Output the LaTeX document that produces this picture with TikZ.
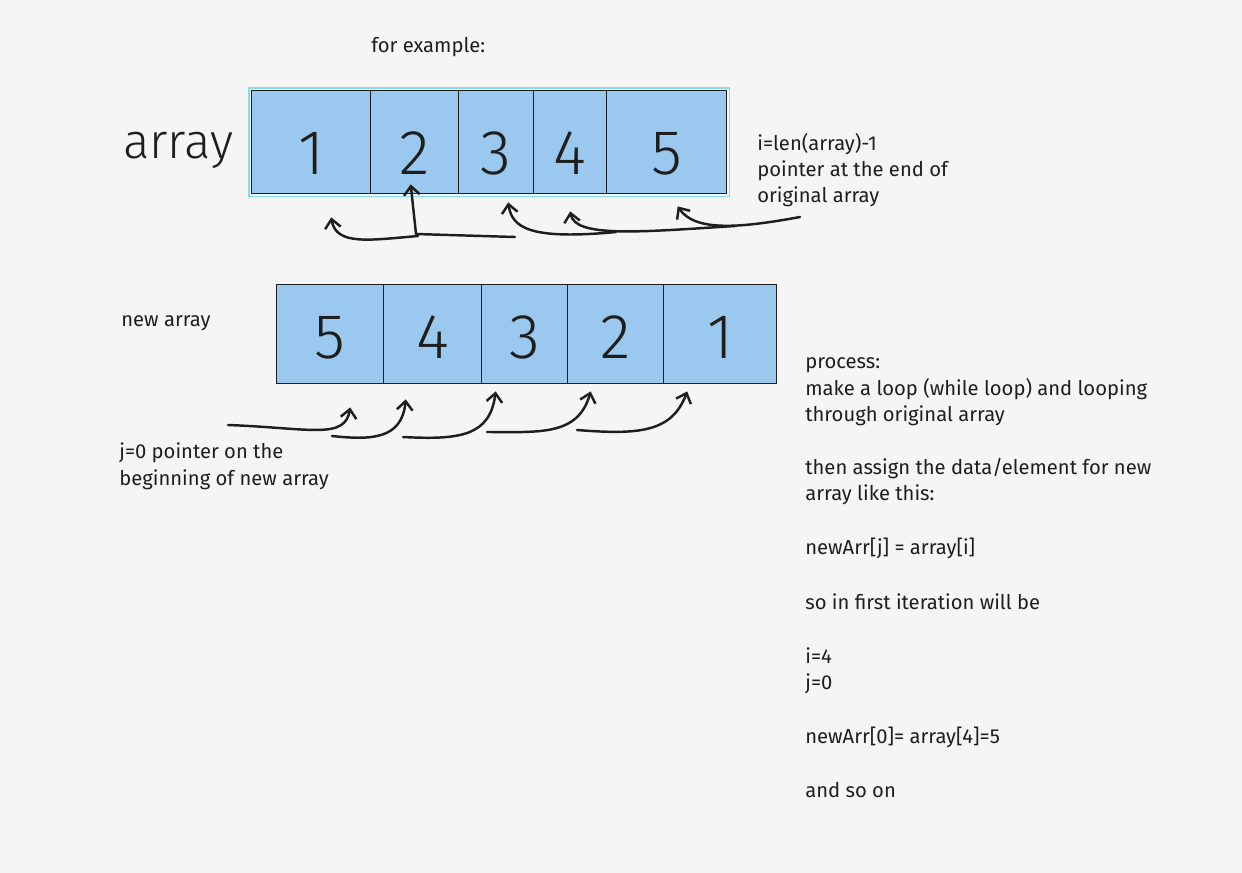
\documentclass[tikz,border=0pt]{standalone}
\usepackage{fontspec}
\setmainfont{Fira Sans}
\newfontfamily\digitfont{Fira Sans Light}
\usetikzlibrary{arrows.meta, positioning}
\definecolor{paper}{HTML}{F5F5F5}
\definecolor{boxblue}{HTML}{9AC8EE}
\definecolor{ink}{HTML}{1E1E1E}
\definecolor{glow}{HTML}{8ADCEB}
\tikzset{
cell/.style={draw=ink, line width=0.8pt, fill=boxblue, anchor=north west, inner sep=0pt,
    text depth=0pt, text=ink, font=\digitfont\fontsize{36}{36}\selectfont},
note/.style={anchor=base west, inner sep=0pt, text=ink, font=\fontsize{11.5}{13}\selectfont},
hand/.style={ink, line width=1.4pt, line cap=round, line join=round,
    -{Straight Barb[length=5pt, width=9pt]}},
}

\begin{document}
\begin{tikzpicture}[x=0.02cm, y=-0.02cm]
    \fill[paper] (0,0) rectangle (1242,873);
    \useasboundingbox (0,0) rectangle (1242,873);

    \node[note] (title) at (371,52) {for example:};
    \node[text=ink, font=\digitfont\fontsize{28}{28}\selectfont] (arraylbl) at (178,150) {array};

    \foreach \x/\w/\d [count=\k] in {251/119/1, 370/88/2, 458/75/3, 533/73/4, 606/120/5}
        \node[cell, minimum height=103*0.02cm, minimum width=\w*0.02cm, text height=1.3cm]
            (a\k) at (\x,90) {\d};
    \draw[glow, line width=0.6pt] ([shift={(-2,-2)}]a1.north west) rectangle ([shift={(2,2)}]a5.south east);

    \node[note] (itext1) at (757,150) {i=len(array)-1};
    \node[note] (itext2) at (757,176) {pointer at the end of};
    \node[note] (itext3) at (757,202) {original array};

    \coordinate (t1) at (800,217);
    \coordinate (t2) at (735,226);
    \coordinate (t3) at (616,232);
    \coordinate (t4) at (515,237);
    \coordinate (t5) at (418,236);
    \draw[hand] (t1) .. controls (740,228) and (695,232) .. ([shift={(11,12)}]a5.south);
    \draw[hand] (t2) .. controls (640,232) and (575,238) .. ([shift={(0,17)}]a4.south);
    \draw[hand] (t3) .. controls (530,240) and (512,228) .. ([shift={(12,8)}]a3.south);
    \draw[hand] (t4) -- (416,234) -- ([shift={(-4,-10)}]a2.south);
    \draw[hand] (t5) .. controls (370,240) and (336,246) .. ([shift={(20,23)}]a1.south);

    \node[note] (newlbl) at (121,326) {new array};
    \foreach \x/\w/\d [count=\k] in {276/107/5, 383/98/4, 481/86/3, 567/96/2, 663/113/1}
        \node[cell, minimum height=99*0.02cm, minimum width=\w*0.02cm, text height=0.96cm]
            (b\k) at (\x,284) {\d};

    \coordinate (u1) at (228,425);
    \coordinate (u2) at (332,436);
    \coordinate (u3) at (403,437);
    \coordinate (u4) at (487,432);
    \coordinate (u5) at (577,430);
    \draw[hand] (u1) .. controls (310,428) and (345,440) .. ([shift={(20,23)}]b1.south);
    \draw[hand] (u2) .. controls (370,440) and (402,440) .. ([shift={(-27,15)}]b2.south);
    \draw[hand] (u3) .. controls (460,440) and (490,436) .. ([shift={(-29,7)}]b3.south);
    \draw[hand] (u4) .. controls (540,432) and (578,436) .. ([shift={(-25,7)}]b4.south);
    \draw[hand] (u5) .. controls (640,435) and (672,432) .. ([shift={(-33,7)}]b5.south);

    \node[note] (jtext1) at (119,458) {j=0 pointer on the};
    \node[note] (jtext2) at (119,485) {beginning of new array};

    \foreach \yy/\txt [count=\k] in {368/process:, 395/{make a loop (while loop) and looping},
        421/{through original array}, 474/{then assign the data/element for new},
        500/{array like this:}, 554/{newArr[j] = array[i]}, 609/{so in first iteration will be},
        663/{i=4}, 689/{j=0}, 743/{newArr[0]= array[4]=5}, 797/{and so on}}
        \node[note] (proc\k) at (805,\yy) {\txt};
\end{tikzpicture}
\end{document}
